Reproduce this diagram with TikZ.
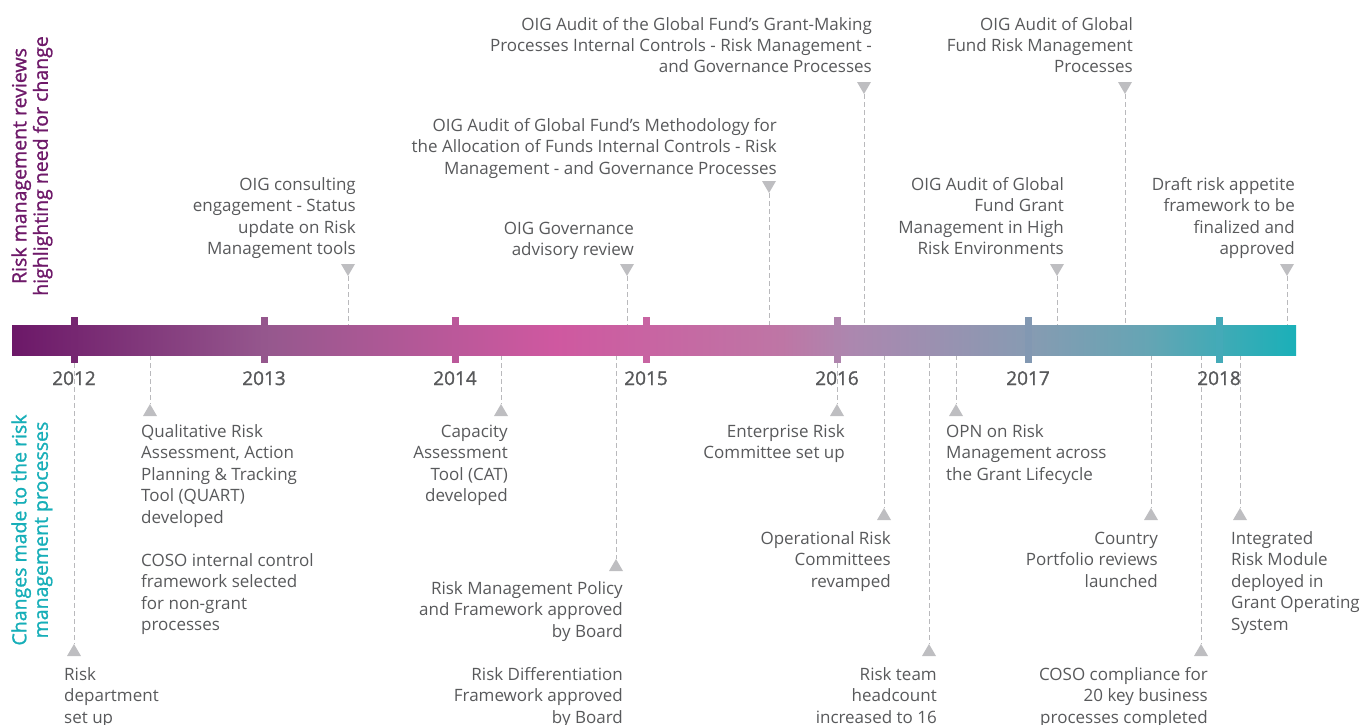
\documentclass[tikz,border=0pt]{standalone}
\usepackage{fontspec}
\setmainfont{Open Sans}
\newfontfamily\boldish[FakeBold=1.2]{Open Sans}
\definecolor{txtgray}{RGB}{88,89,91}
\definecolor{markgray}{RGB}{190,190,193}
\definecolor{dashgray}{RGB}{185,185,188}
\definecolor{purp}{RGB}{110,25,105}
\definecolor{teal}{RGB}{22,174,184}
\definecolor{g0}{RGB}{108,24,104}
\definecolor{g1}{RGB}{150,88,142}
\definecolor{g2}{RGB}{207,88,160}
\definecolor{g3}{RGB}{190,118,165}
\definecolor{g4}{RGB}{172,135,175}
\definecolor{g5}{RGB}{135,155,178}
\definecolor{g6}{RGB}{100,165,180}
\definecolor{g7}{RGB}{26,176,184}
\definecolor{k1}{RGB}{118,39,113}
\definecolor{k2}{RGB}{149,87,141}
\definecolor{k3}{RGB}{187,88,154}
\definecolor{k4}{RGB}{200,100,162}
\definecolor{k5}{RGB}{175,132,173}
\definecolor{k6}{RGB}{130,152,178}
\definecolor{k7}{RGB}{68,170,184}
\tikzset{
  ann/.style={font=\fontsize{17}{21.5}\selectfont, text=txtgray, inner sep=0pt},
  yearlab/.style={font=\boldish\fontsize{19}{22}\selectfont, text=txtgray, inner sep=0pt, anchor=base},
  sidelab/.style={font=\boldish\fontsize{19.5}{21.5}\selectfont, inner sep=0pt, rotate=90, align=center},
  dashline/.style={draw=dashgray, line width=1pt, dash pattern=on 5pt off 3pt},
  marker/.style={fill=markgray}
}
\begin{document}
\begin{tikzpicture}[x=1pt,y=-1pt]
\useasboundingbox (0,0) rectangle (1362,725);

% ---------- markers above the bar (pointing down) ----------
\foreach \n/\x/\y in {u1/348/276, u2/627/276, u3/769/193, u4/864/94, u5/1057/276, u6/1125/94, u7/1287/276}{
  \coordinate (\n) at (\x,\y);
  \coordinate (\n bar) at (\x,325);
  \draw[dashline] (\n) -- (\n bar);
  \fill[marker] (\n) -- ++(-7,-12) -- ++(14,0) -- cycle;
}
% ---------- markers below the bar (pointing up) ----------
\foreach \n/\x/\y in {d1/74/644, d2/150/404, d3/501/404, d4/616/559, d5/837/404, d6/884/508, d7/929/644, d8/956/404, d9/1151/508, d10/1201/644, d11/1240/508}{
  \coordinate (\n) at (\x,\y);
  \coordinate (\n bar) at (\x,355);
  \draw[dashline] (\n bar) -- (\n);
  \fill[marker] (\n) -- ++(-7,12) -- ++(14,0) -- cycle;
}

% ---------- gradient bar ----------
\shade[left color=g0, right color=g1] (12,325) rectangle (269.6,355);
\shade[left color=g1, right color=g2] (269,325) rectangle (555.6,355);
\shade[left color=g2, right color=g3] (555,325) rectangle (782.6,355);
\shade[left color=g3, right color=g4] (782,325) rectangle (850.6,355);
\shade[left color=g4, right color=g5] (850,325) rectangle (1028.6,355);
\shade[left color=g5, right color=g6] (1028,325) rectangle (1150.6,355);
\shade[left color=g6, right color=g7] (1150,325) rectangle (1296,355);

% ---------- year ticks ----------
\foreach \x/\c/\yr in {74/k1/2012, 264/k2/2013, 455/k3/2014, 646/k4/2015, 837/k5/2016, 1028/k6/2017, 1219/k7/2018}{
  \fill[\c] (\x-3.5,317) rectangle (\x+3.5,363);
  \node[yearlab] (y\yr) at (\x,385) {\yr};
}

% ---------- side labels ----------
\node[sidelab, text=purp] (lab1) at (32,166) {Risk management reviews\\highlighting need for change};
\node[sidelab, text=teal] (lab2) at (32,530) {Changes made to the risk\\management processes};

% ---------- texts above (anchor = baseline of last line) ----------
\node[ann, align=right, anchor=base east] (a1) at (356,254.5) {OIG consulting\\engagement - Status\\update on Risk\\Management tools};
\node[ann, align=right, anchor=base east] (a2) at (634,255.5) {OIG Governance\\advisory review};
\node[ann, align=right, anchor=base east] (a3) at (777,174) {OIG Audit of Global Fund’s Methodology for\\the Allocation of Funds Internal Controls - Risk\\Management - and Governance Processes};
\node[ann, align=right, anchor=base east] (a4) at (872,73) {OIG Audit of the Global Fund’s Grant-Making\\Processes Internal Controls - Risk Management -\\and Governance Processes};
\node[ann, align=right, anchor=base east] (a5) at (1064,254.5) {OIG Audit of Global\\Fund Grant\\Management in High\\Risk Environments};
\node[ann, align=right, anchor=base east] (a6) at (1133,73) {OIG Audit of Global\\Fund Risk Management\\Processes};
\node[ann, align=right, anchor=base east] (a7) at (1295,254.5) {Draft risk appetite\\framework to be\\finalized and\\approved};

% ---------- texts below ----------
\node[ann, align=left, anchor=base west] (b1) at (64,723) {Risk\\department\\set up};
\node[ann, align=left, anchor=base west] (b2) at (141,630.5) {Qualitative Risk\\Assessment, Action\\Planning \& Tracking\\Tool (QUART)\\developed\\[21.5pt]COSO internal control\\framework selected\\for non-grant\\processes};
\node[ann, align=right, anchor=base east] (b3) at (508,501.5) {Capacity\\Assessment\\Tool (CAT)\\developed};
\node[ann, align=right, anchor=base east] (b4) at (623,723) {Risk Management Policy\\and Framework approved\\by Board\\[21.5pt]Risk Differentiation\\Framework approved\\by Board};
\node[ann, align=right, anchor=base east] (b5) at (845,458.5) {Enterprise Risk\\Committee set up};
\node[ann, align=right, anchor=base east] (b6) at (891,587) {Operational Risk\\Committees\\revamped};
\node[ann, align=right, anchor=base east] (b7) at (937,723) {Risk team\\headcount\\increased to 16};
\node[ann, align=left, anchor=base west] (b8) at (946,480) {OPN on Risk\\Management across\\the Grant Lifecycle};
\node[ann, align=right, anchor=base east] (b9) at (1158,587) {Country\\Portfolio reviews\\launched};
\node[ann, align=right, anchor=base east] (b10) at (1208,723) {COSO compliance for\\20 key business\\processes completed};
\node[ann, align=left, anchor=base west] (b11) at (1231,630) {Integrated\\Risk Module\\deployed in\\Grant Operating\\System};
\end{tikzpicture}
\end{document}
